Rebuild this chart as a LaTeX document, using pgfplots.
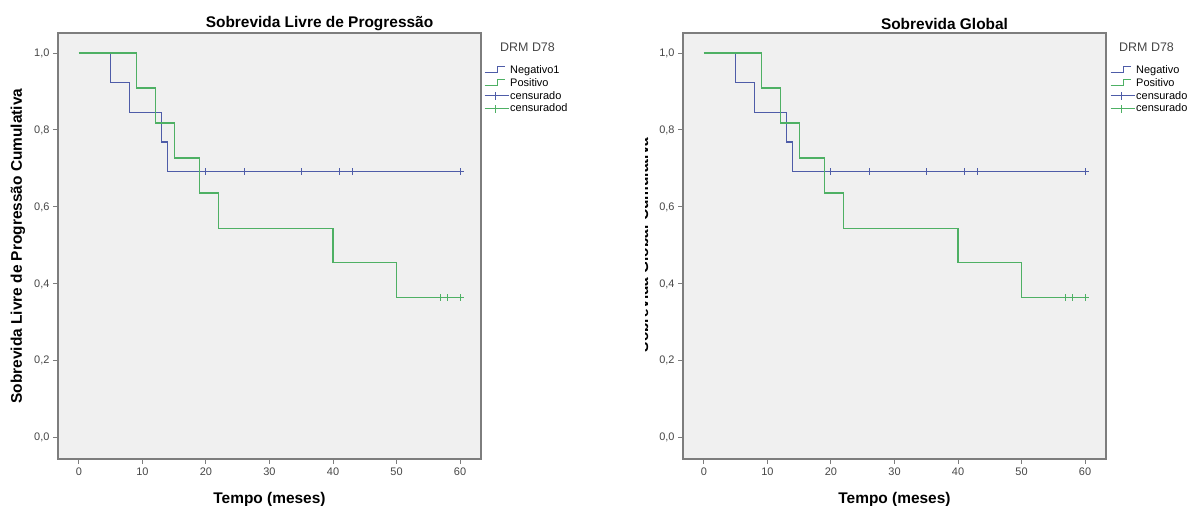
\documentclass[border=0pt]{standalone}
\usepackage{fontspec}
\setmainfont{Liberation Sans}
\usepackage{pgfplots}
\usepackage{pgfplotstable}
\pgfplotsset{compat=1.18}
\definecolor{kmblue}{RGB}{78,92,168}
\definecolor{kmgreen}{RGB}{78,176,100}
\definecolor{bggray}{RGB}{240,240,240}
\definecolor{framegray}{RGB}{125,125,125}
\definecolor{labgray}{RGB}{70,70,70}

% Kaplan-Meier steps (time, survival)
\pgfplotstableread{
t s
0 1.000
5 0.923
8 0.846
13 0.769
14 0.692
60 0.692
}\negstep
\pgfplotstableread{
t s
0 1.000
9 0.909
12 0.818
15 0.727
19 0.636
22 0.545
40 0.455
50 0.364
60 0.364
}\posstep
\pgfplotstableread{
t s
20 0.692
26 0.692
35 0.692
41 0.692
43 0.692
60 0.692
}\negcens
\pgfplotstableread{
t s
57 0.364
58 0.364
60 0.364
}\poscens

\pgfplotsset{
  km/.style={
    scale only axis, width=423bp, height=426bp,
    xmin=-3.3, xmax=63.3, ymin=-0.055, ymax=1.052,
    clip mode=individual,
    xtick={0,10,20,30,40,50,60},
    ytick={0,0.2,0.4,0.6,0.8,1.0},
    xticklabel style={/pgf/number format/assume math mode=true},
    yticklabel style={
      /pgf/number format/fixed,
      /pgf/number format/fixed zerofill,
      /pgf/number format/precision=1,
      /pgf/number format/use comma,
      /pgf/number format/assume math mode=true},
    axis background/.style={fill=bggray},
    axis line style={draw=framegray, line width=1.6bp},
    every tick/.style={draw=framegray, line width=1bp},
    tick align=outside, major tick length=5bp,
    xtick pos=bottom, ytick pos=left,
    tick label style={font=\fontsize{11}{13}\selectfont, text=labgray},
    title style={font=\bfseries\fontsize{15.5}{18}\selectfont, at={(rel axis cs:0.5,1)}, anchor=center, yshift=3bp, xshift=50bp},
    xlabel style={font=\bfseries\fontsize{15.5}{18}\selectfont, at={(rel axis cs:0.5,0)}, anchor=center, yshift=-41bp},
    ylabel style={font=\bfseries\fontsize{15.5}{18}\selectfont, at={(rel axis cs:-0.0946,0.5)}, anchor=center},
    legend style={at={(rel axis cs:1,1)}, anchor=north west, xshift=3bp, yshift=-31bp,
      draw=none, fill=none, font=\fontsize{11}{12}\selectfont, row sep=1.5bp, inner sep=0pt,
      nodes={inner sep=1bp}},
    legend cell align=left,
  },
  stepblue/.style={kmblue, line width=1.2bp, const plot,
    legend image code/.code={\draw[kmblue, line width=1bp] (0bp,-3bp) -- (13bp,-3bp) -- (13bp,3bp) -- (20bp,3bp);}},
  stepgreen/.style={kmgreen, line width=1.2bp, const plot,
    legend image code/.code={\draw[kmgreen, line width=1bp] (0bp,-3bp) -- (13bp,-3bp) -- (13bp,3bp) -- (20bp,3bp);}},
  censblue/.style={only marks, mark=+, mark size=3.5bp, mark options={kmblue, line width=1bp},
    legend image code/.code={\draw[kmblue, line width=1bp] (0bp,0bp) -- (24bp,0bp); \draw[kmblue, line width=1bp] (11bp,-4bp) -- (11bp,4bp);}},
  censgreen/.style={only marks, mark=+, mark size=3.5bp, mark options={kmgreen, line width=1bp},
    legend image code/.code={\draw[kmgreen, line width=1bp] (0bp,0bp) -- (24bp,0bp); \draw[kmgreen, line width=1bp] (11bp,-4bp) -- (11bp,4bp);}},
}

\begin{document}
\begin{tikzpicture}
\useasboundingbox (0,0) rectangle (1187bp,506bp);

\begin{axis}[km, at={(58bp,47bp)}, anchor=south west,
  title={Sobrevida Livre de Progressão},
  xlabel={Tempo (meses)},
  ylabel={Sobrevida Livre de Progressão Cumulativa}]
  \addplot[stepblue] table[x=t,y=s] {\negstep};
  \addlegendentry{Negativo1}
  \addplot[stepgreen] table[x=t,y=s] {\posstep};
  \addlegendentry{Positivo}
  \addplot[censblue] table[x=t,y=s] {\negcens};
  \addlegendentry{censurado}
  \addplot[censgreen] table[x=t,y=s] {\poscens};
  \addlegendentry{censuradod}
  \node[anchor=west, font=\fontsize{12.5}{14}\selectfont, text=labgray, inner sep=0] at (rel axis cs:1,1) [xshift=19bp, yshift=-14bp] {DRM D78};
\end{axis}

\begin{axis}[km, at={(683bp,47bp)}, anchor=south west,
  title={Sobrevida Global},
  xlabel={Tempo (meses)},
  legend style={xshift=1bp}]
  \addplot[stepblue] table[x=t,y=s] {\negstep};
  \addlegendentry{Negativo}
  \addplot[stepgreen] table[x=t,y=s] {\posstep};
  \addlegendentry{Positivo}
  \addplot[censblue] table[x=t,y=s] {\negcens};
  \addlegendentry{censurado}
  \addplot[censgreen] table[x=t,y=s] {\poscens};
  \addlegendentry{censurado}
  \node[anchor=west, font=\fontsize{12.5}{14}\selectfont, text=labgray, inner sep=0] at (rel axis cs:1,1) [xshift=13bp, yshift=-14bp] {DRM D78};
\end{axis}

% partially hidden y label of the right panel
\begin{scope}
  \clip (645.5bp,100bp) rectangle (649bp,420bp);
  \node[rotate=90, anchor=base, inner sep=0, font=\bfseries\fontsize{15.5}{18}\selectfont] at (648bp,261bp) {Sobrevida Global Cumulativa};
\end{scope}
\end{tikzpicture}
\end{document}
